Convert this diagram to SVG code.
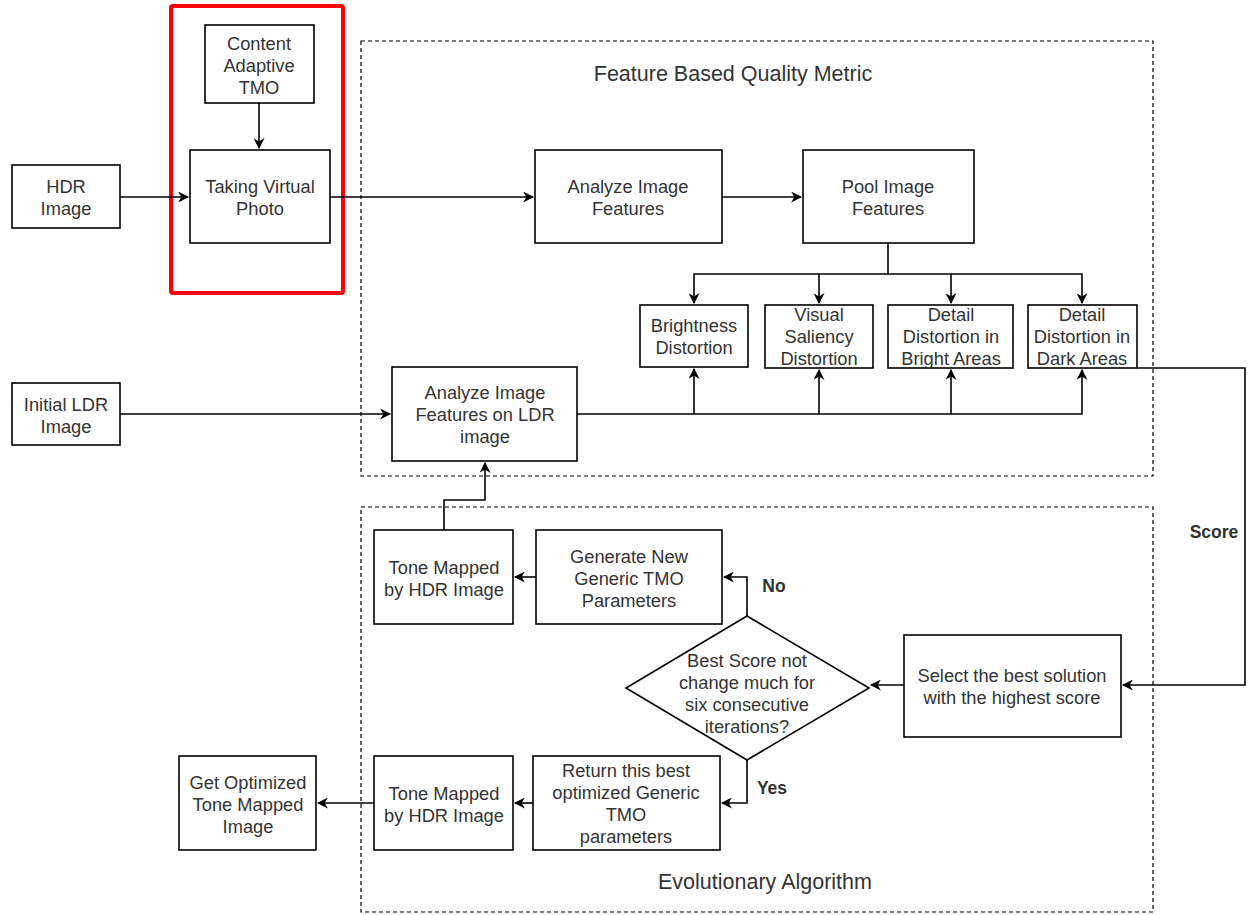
<svg xmlns="http://www.w3.org/2000/svg" width="1248" height="915" viewBox="0 0 1248 915">
<style>
.box{fill:#fff;stroke:#000;stroke-width:1.6}
.grp{fill:none;stroke:#000;stroke-width:1.2;stroke-dasharray:4 3}
.t{font-family:"Liberation Sans",Arial,sans-serif;font-size:18.3px;fill:#333;text-anchor:middle}
.title{font-family:"Liberation Sans",Arial,sans-serif;font-size:21.5px;fill:#333;text-anchor:middle}
.lbl{font-family:"Liberation Sans",Arial,sans-serif;font-size:17.5px;font-weight:bold;fill:#333;text-anchor:middle}
.c{fill:none;stroke:#000;stroke-width:1.6}
</style>
<defs>
<marker id="ah" viewBox="0 0 10 10" refX="9" refY="5" markerWidth="11" markerHeight="11" markerUnits="userSpaceOnUse" orient="auto">
<path d="M0,0 L10,5 L0,10 L3,5 Z" fill="#000"/>
</marker>
</defs>
<rect width="1248" height="915" fill="#fff"/>
<g id="group-feature">
<rect class="grp" x="361" y="41" width="792" height="435"/>
<text class="title" x="733" y="81">Feature Based Quality Metric</text>
</g>
<g id="group-evolutionary">
<rect class="grp" x="361" y="507" width="792" height="405"/>
<text class="title" x="765" y="889">Evolutionary Algorithm</text>
</g>
<g id="highlight">
<rect x="171" y="6" width="172" height="287" fill="none" stroke="#f00" stroke-width="4" rx="2"/>
</g>
<g id="connectors">
<path class="c" d="M120,197 H188" marker-end="url(#ah)"/>
<path class="c" d="M259,103 V148" marker-end="url(#ah)"/>
<path class="c" d="M330,197 H533" marker-end="url(#ah)"/>
<path class="c" d="M722,197 H801" marker-end="url(#ah)"/>
<path class="c" d="M888,243 V274 H694 V303" marker-end="url(#ah)"/>
<path class="c" d="M819,274 V303" marker-end="url(#ah)"/>
<path class="c" d="M888,274 H951 V303" marker-end="url(#ah)"/>
<path class="c" d="M951,274 H1082 V303" marker-end="url(#ah)"/>
<path class="c" d="M120,414 H390" marker-end="url(#ah)"/>
<path class="c" d="M577,414 H1082 V370" marker-end="url(#ah)"/>
<path class="c" d="M694,414 V369" marker-end="url(#ah)"/>
<path class="c" d="M819,414 V370" marker-end="url(#ah)"/>
<path class="c" d="M951,414 V370" marker-end="url(#ah)"/>
<path class="c" d="M1137,368 H1245 V685 H1123" marker-end="url(#ah)"/>
<text class="lbl" x="1214" y="538">Score</text>
<path class="c" d="M904,685 H871" marker-end="url(#ah)"/>
<path class="c" d="M747,616 V577 H724" marker-end="url(#ah)"/>
<text class="lbl" x="774" y="592">No</text>
<path class="c" d="M536,577 H515" marker-end="url(#ah)"/>
<path class="c" d="M444,530 V500 H485 V463" marker-end="url(#ah)"/>
<path class="c" d="M747,760 V803 H722" marker-end="url(#ah)"/>
<text class="lbl" x="772" y="794">Yes</text>
<path class="c" d="M533,803 H515" marker-end="url(#ah)"/>
<path class="c" d="M374,803 H318" marker-end="url(#ah)"/>
</g>
<g id="hdr-image">
<rect class="box" x="12" y="165" width="108" height="63"/>
<text class="t" x="66" y="193">HDR</text>
<text class="t" x="66" y="215">Image</text>
</g>
<g id="content-adaptive-tmo">
<rect class="box" x="205" y="25" width="109" height="78"/>
<text class="t" x="259" y="50">Content</text>
<text class="t" x="259" y="72">Adaptive</text>
<text class="t" x="259" y="94">TMO</text>
</g>
<g id="taking-virtual-photo">
<rect class="box" x="190" y="150" width="140" height="93"/>
<text class="t" x="260" y="193">Taking Virtual</text>
<text class="t" x="260" y="215">Photo</text>
</g>
<g id="analyze-image-features">
<rect class="box" x="535" y="150" width="187" height="93"/>
<text class="t" x="628" y="193">Analyze Image</text>
<text class="t" x="628" y="215">Features</text>
</g>
<g id="pool-image-features">
<rect class="box" x="803" y="150" width="171" height="93"/>
<text class="t" x="888" y="193">Pool Image</text>
<text class="t" x="888" y="215">Features</text>
</g>
<g id="brightness-distortion">
<rect class="box" x="640" y="305" width="108" height="62"/>
<text class="t" x="694" y="332">Brightness</text>
<text class="t" x="694" y="354">Distortion</text>
</g>
<g id="visual-saliency-distortion">
<rect class="box" x="765" y="305" width="108" height="63"/>
<text class="t" x="819" y="321">Visual</text>
<text class="t" x="819" y="343">Saliency</text>
<text class="t" x="819" y="365">Distortion</text>
</g>
<g id="detail-bright">
<rect class="box" x="888" y="305" width="125" height="63"/>
<text class="t" x="951" y="321">Detail</text>
<text class="t" x="951" y="343">Distortion in</text>
<text class="t" x="951" y="365">Bright Areas</text>
</g>
<g id="detail-dark">
<rect class="box" x="1028" y="305" width="109" height="63"/>
<text class="t" x="1082" y="321">Detail</text>
<text class="t" x="1082" y="343">Distortion in</text>
<text class="t" x="1082" y="365">Dark Areas</text>
</g>
<g id="initial-ldr-image">
<rect class="box" x="12" y="383" width="108" height="62"/>
<text class="t" x="66" y="411">Initial LDR</text>
<text class="t" x="66" y="433">Image</text>
</g>
<g id="analyze-ldr">
<rect class="box" x="392" y="367" width="185" height="94"/>
<text class="t" x="485" y="399">Analyze Image</text>
<text class="t" x="485" y="421">Features on LDR</text>
<text class="t" x="485" y="443">image</text>
</g>
<g id="tone-mapped-top">
<rect class="box" x="374" y="530" width="139" height="94"/>
<text class="t" x="444" y="574">Tone Mapped</text>
<text class="t" x="444" y="596">by HDR Image</text>
</g>
<g id="generate-new">
<rect class="box" x="536" y="530" width="186" height="94"/>
<text class="t" x="629" y="563">Generate New</text>
<text class="t" x="629" y="585">Generic TMO</text>
<text class="t" x="629" y="607">Parameters</text>
</g>
<g id="decision">
<polygon class="box" points="747,616 869,688 747,760 626,688"/>
<text class="t" x="747" y="667">Best Score not</text>
<text class="t" x="747" y="689">change much for</text>
<text class="t" x="747" y="711">six consecutive</text>
<text class="t" x="747" y="733">iterations?</text>
</g>
<g id="select-best">
<rect class="box" x="904" y="635" width="217" height="102"/>
<text class="t" x="1012" y="682">Select the best solution</text>
<text class="t" x="1012" y="704">with the highest score</text>
</g>
<g id="return-best">
<rect class="box" x="533" y="756" width="187" height="94"/>
<text class="t" x="626" y="777">Return this best</text>
<text class="t" x="626" y="799">optimized Generic</text>
<text class="t" x="626" y="821">TMO</text>
<text class="t" x="626" y="843">parameters</text>
</g>
<g id="tone-mapped-bottom">
<rect class="box" x="374" y="756" width="139" height="94"/>
<text class="t" x="444" y="800">Tone Mapped</text>
<text class="t" x="444" y="822">by HDR Image</text>
</g>
<g id="get-optimized">
<rect class="box" x="179" y="756" width="137" height="94"/>
<text class="t" x="248" y="789">Get Optimized</text>
<text class="t" x="248" y="811">Tone Mapped</text>
<text class="t" x="248" y="833">Image</text>
</g>
</svg>
